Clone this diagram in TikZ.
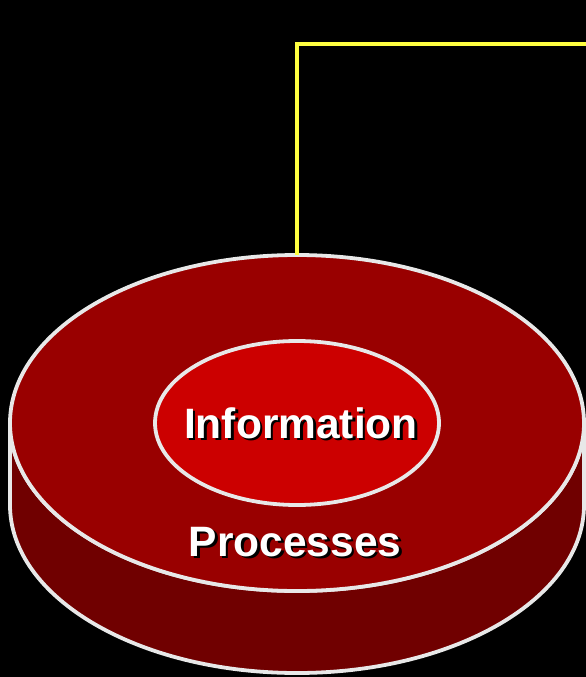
\documentclass[tikz,border=0pt]{standalone}
\usepackage{fontspec}
\setmainfont{Liberation Sans}
\definecolor{discTop}{RGB}{153,0,0}
\definecolor{discSide}{RGB}{112,0,0}
\definecolor{coreRed}{RGB}{204,0,0}
\definecolor{rimGray}{RGB}{232,232,232}
\definecolor{linkYellow}{RGB}{255,255,64}
% white text with a small black drop shadow, set in one box
\newcommand{\dropshadowed}[1]{\makebox[0pt][l]{\hspace{2.5pt}\raisebox{-2.5pt}{\textcolor{black}{#1}}}#1}
\tikzset{
  rim/.style={draw=rimGray, line width=3.8pt},
  label/.style={font=\fontsize{42.5}{46}\selectfont\bfseries, text=white, inner sep=0pt, anchor=base},
}
\begin{document}
\begin{tikzpicture}[x=1pt, y=-1pt]
  % canvas
  \fill[black] (0,0) rectangle (586,677);
  \useasboundingbox (0,0) rectangle (586,677);

  % side band of the disc
  \path[fill=discSide, rim]
    (10,423) -- (10,505) arc[start angle=180, end angle=0, x radius=287, y radius=168]
    -- (584,423) arc[start angle=0, end angle=180, x radius=287, y radius=168] -- cycle;

  % top face
  \path[fill=discTop, rim] (297,423) ellipse[x radius=287, y radius=168];
  \coordinate (topedge) at (297,255);

  % inner core
  \path[fill=coreRed, rim] (297,423) ellipse[x radius=142, y radius=82];

  % link line leaving the disc
  \coordinate (corner) at (297,44);
  \coordinate (exit) at (586,44);
  \draw[linkYellow, line width=3.2pt] (topedge) -- (corner) -- (exit);

  % labels
  \node[label] (info) at (301,438) {\dropshadowed{Information}};
  \node[label] (proc) at (295,556) {\dropshadowed{Processes}};
\end{tikzpicture}
\end{document}
